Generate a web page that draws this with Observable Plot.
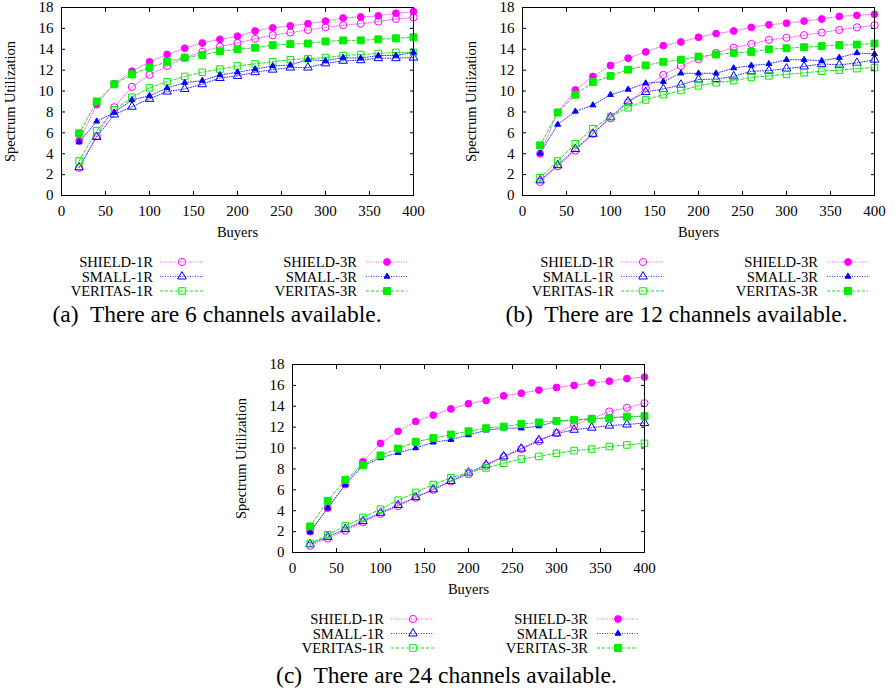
<!DOCTYPE html>
<html><head><meta charset="utf-8">
<script src="https://cdn.jsdelivr.net/npm/d3@7"></script>
<script src="https://cdn.jsdelivr.net/npm/@observablehq/plot@0.6"></script>
<style>
body{margin:0;background:#fff;}
#root{position:relative;width:895px;height:693px;font-family:'Liberation Serif','DejaVu Serif',serif;color:#000;}
.panel{position:absolute;width:450px;height:340px;}
.legend{position:absolute;left:0;top:245px;}
.caption{position:absolute;line-height:26px;font-size:23.5px;white-space:pre;transform:translateX(-50%);font-family:'Liberation Serif','DejaVu Serif',serif;}
</style></head><body><div id="root"></div>
<script>
// ---- data ----
const buyers = [20,40,60,80,100,120,140,160,180,200,220,240,260,280,300,320,340,360,380,400];
const seriesNames = ["SHIELD-1R","SMALL-1R","VERITAS-1R","SHIELD-3R","SMALL-3R","VERITAS-3R"];
const xTicks = [0,50,100,150,200,250,300,350,400];
const yTicks = [0,2,4,6,8,10,12,14,16,18];
const captions = ["(a)  There are 6 channels available.","(b)  There are 12 channels available.","(c)  There are 24 channels available."];

const ch6_SHIELD_1R  = [2.65,5.7,8.45,10.4,11.55,12.4,13.2,13.75,14.25,14.6,15.0,15.35,15.6,15.85,16.1,16.3,16.45,16.65,16.9,17.05];
const ch6_SMALL_1R   = [2.7,5.6,7.75,8.5,9.25,9.95,10.2,10.65,11.25,11.45,11.8,12.05,12.25,12.25,12.65,12.9,12.95,13.15,13.15,13.2];
const ch6_VERITAS_1R = [3.3,6.2,8.2,9.4,10.3,10.9,11.4,11.8,12.1,12.4,12.6,12.8,13.0,13.1,13.2,13.4,13.5,13.6,13.7,13.7];
const ch6_SHIELD_3R  = [5.25,8.7,10.7,11.9,12.8,13.5,14.1,14.6,14.95,15.25,15.75,16.05,16.25,16.45,16.7,17.0,17.1,17.2,17.45,17.6];
const ch6_SMALL_3R   = [5.1,7.1,7.95,9.15,9.55,10.3,10.8,11.0,11.55,11.8,12.1,12.4,12.5,13.0,12.9,13.2,13.15,13.4,13.4,13.7];
const ch6_VERITAS_3R = [5.95,9.0,10.65,11.6,12.25,12.8,13.2,13.45,13.8,14.0,14.15,14.4,14.5,14.55,14.75,14.85,14.85,14.95,15.05,15.15];

const ch12_SHIELD_1R  = [1.3,2.8,4.3,5.9,7.4,8.9,10.3,11.55,12.4,13.05,13.65,14.15,14.5,14.9,15.1,15.35,15.6,15.85,16.1,16.3];
const ch12_SMALL_1R   = [1.45,2.9,4.45,5.9,7.5,9.0,9.9,10.2,10.6,11.1,11.15,11.4,11.9,11.95,12.15,12.35,12.6,12.5,12.7,13.0];
const ch12_VERITAS_1R = [1.7,3.3,4.95,6.4,7.55,8.4,9.15,9.65,10.05,10.5,10.8,11.0,11.3,11.45,11.6,11.75,11.9,12.0,12.15,12.25];
const ch12_SHIELD_3R  = [4.0,7.95,10.1,11.4,12.45,13.15,13.75,14.35,14.7,15.15,15.5,15.75,16.1,16.35,16.5,16.7,16.9,17.15,17.25,17.35];
const ch12_SMALL_3R   = [4.05,6.8,8.05,8.65,9.65,10.15,10.75,10.9,11.7,11.7,11.7,12.2,12.45,12.6,13.0,13.0,12.9,13.2,13.65,13.55];
const ch12_VERITAS_3R = [4.8,7.95,9.65,10.85,11.45,12.05,12.45,12.8,13.0,13.3,13.5,13.65,13.75,14.0,14.1,14.2,14.3,14.4,14.45,14.55];

const ch24_SHIELD_1R  = [0.65,1.35,2.1,2.9,3.7,4.45,5.25,6.0,6.8,7.5,8.3,9.15,9.9,10.65,11.45,12.2,12.8,13.5,13.85,14.3];
const ch24_SMALL_1R   = [0.8,1.5,2.25,3.0,3.8,4.55,5.3,6.05,6.85,7.65,8.4,9.2,9.95,10.75,11.4,11.75,11.95,12.15,12.25,12.4];
const ch24_VERITAS_1R = [0.85,1.7,2.55,3.35,4.15,5.0,5.75,6.5,7.15,7.65,8.1,8.55,8.95,9.2,9.5,9.75,9.9,10.15,10.3,10.45];
const ch24_SHIELD_3R  = [2.0,4.25,6.5,8.7,10.45,11.6,12.55,13.15,13.75,14.25,14.55,15.0,15.25,15.55,15.8,16.0,16.25,16.4,16.65,16.8];
const ch24_SMALL_3R   = [1.95,4.25,6.5,8.3,9.05,9.55,10.0,10.55,10.8,11.25,11.7,11.9,11.9,12.1,12.55,12.65,12.8,12.9,13.0,13.05];
const ch24_VERITAS_3R = [2.5,4.95,6.95,8.35,9.3,9.95,10.6,10.95,11.3,11.6,11.9,12.05,12.3,12.45,12.6,12.7,12.8,12.85,13.0,13.05];

// ---- styles ----
const styles = {
  "SHIELD-1R":  {color:"#ff00ff", line:"#ff55ff", dash:"1,1.5", symbol:"circle",   open:true,  r:3.6},
  "SMALL-1R":   {color:"#0000ff", line:"#3333ff", dash:"1,1.5", symbol:"triangle", open:true,  r:3.2},
  "VERITAS-1R": {color:"#00ee00", line:"#22dd22", dash:"3,2",   symbol:"square",   open:true,  r:3.7},
  "SHIELD-3R":  {color:"#ff00ff", line:"#ff55ff", dash:"1,1.5", symbol:"circle",   open:false, r:3.4},
  "SMALL-3R":   {color:"#0000ff", line:"#3333ff", dash:"1,1.5", symbol:"triangle", open:false, r:2.2},
  "VERITAS-3R": {color:"#00ee00", line:"#22dd22", dash:"3,2",   symbol:"square",   open:false, r:3.9}
};

const panels = [
  {left:0,   top:0,   capX:217, capTop:301, values:[ch6_SHIELD_1R,ch6_SMALL_1R,ch6_VERITAS_1R,ch6_SHIELD_3R,ch6_SMALL_3R,ch6_VERITAS_3R]},
  {left:461, top:0,   capX:215.5, capTop:301, values:[ch12_SHIELD_1R,ch12_SMALL_1R,ch12_VERITAS_1R,ch12_SHIELD_3R,ch12_SMALL_3R,ch12_VERITAS_3R]},
  {left:231, top:357, capX:215.5, capTop:305, values:[ch24_SHIELD_1R,ch24_SMALL_1R,ch24_VERITAS_1R,ch24_SHIELD_3R,ch24_SMALL_3R,ch24_VERITAS_3R]}
];

const FONT = "'Liberation Serif','DejaVu Serif',serif";
const root = document.getElementById("root");

function makePlot(values) {
  const marks = [];
  seriesNames.forEach((name, i) => {
    const st = styles[name];
    const rows = buyers.map((b, j) => ({buyers: b, util: values[i][j]}));
    marks.push(Plot.line(rows, {x:"buyers", y:"util", stroke: st.line, strokeWidth: 1, strokeDasharray: st.dash}));
    marks.push(Plot.dot(rows, {x:"buyers", y:"util", symbol: st.symbol, r: st.r,
      stroke: st.color, strokeWidth: 1, fill: st.open ? "none" : st.color}));
  });
  return Plot.plot({
    width: 450, height: 245,
    marginLeft: 61, marginRight: 37, marginTop: 7, marginBottom: 50,
    style: {fontFamily: FONT, fontSize: "15px", background: "white", color: "black", overflow: "visible"},
    x: {domain: [0, 400]},
    y: {domain: [0, 18]},
    marks: [
      ...marks,
      Plot.axisX({ticks: xTicks, tickSize: -4, tickPadding: 14, label: null, fontSize: 15}),
      Plot.axisX({anchor: "top", ticks: xTicks, tickSize: -4, tickFormat: () => "", label: null}),
      Plot.axisY({ticks: yTicks, tickSize: -4, tickPadding: 12, label: null, fontSize: 15}),
      Plot.axisY({anchor: "right", ticks: yTicks, tickSize: -4, tickFormat: () => "", label: null}),
      Plot.frame({stroke: "black", strokeWidth: 1}),
      Plot.text(["Spectrum Utilization"], {text: d => d, frameAnchor: "left", dx: -51, rotate: -90,
        textAnchor: "middle", lineAnchor: "middle", fontSize: 14.5}),
      Plot.text(["Buyers"], {text: d => d, frameAnchor: "bottom", dy: 37,
        textAnchor: "middle", lineAnchor: "middle", fontSize: 14.5})
    ]
  });
}

function makeLegend() {
  const svg = d3.create("svg").attr("width", 450).attr("height", 60)
    .attr("class", "legend").style("font-family", FONT).style("font-size", "14.6px");
  const cols = [{textEnd:153, x1:160, x2:203, mx:182}, {textEnd:357, x1:366, x2:407, mx:387}];
  const rowsY = [17, 31.5, 46];
  seriesNames.forEach((name, i) => {
    const st = styles[name];
    const c = cols[Math.floor(i / 3)], y = rowsY[i % 3];
    svg.append("text").attr("x", c.textEnd).attr("y", y).attr("text-anchor", "end")
      .attr("dominant-baseline", "central").text(name);
    svg.append("line").attr("x1", c.x1).attr("x2", c.x2).attr("y1", y).attr("y2", y)
      .attr("stroke", st.line).attr("stroke-width", 1).attr("stroke-dasharray", st.dash);
    const sym = st.symbol === "circle" ? d3.symbolCircle : st.symbol === "triangle" ? d3.symbolTriangle : d3.symbolSquare;
    svg.append("path").attr("d", d3.symbol(sym, st.r * st.r * Math.PI)())
      .attr("transform", `translate(${c.mx},${y})`)
      .attr("stroke", st.color).attr("stroke-width", 1).attr("fill", st.open ? "none" : st.color);
  });
  return svg.node();
}

panels.forEach((p, k) => {
  const div = document.createElement("div");
  div.className = "panel";
  div.style.left = p.left + "px";
  div.style.top = p.top + "px";
  const plot = makePlot(p.values);
  plot.style.position = "absolute"; plot.style.left = "0px"; plot.style.top = "0px";
  div.appendChild(plot);
  div.appendChild(makeLegend());
  const cap = document.createElement("div");
  cap.className = "caption";
  cap.style.left = p.capX + "px";
  cap.style.top = p.capTop + "px";
  cap.textContent = captions[k];
  div.appendChild(cap);
  root.appendChild(div);
});
</script></body></html>
